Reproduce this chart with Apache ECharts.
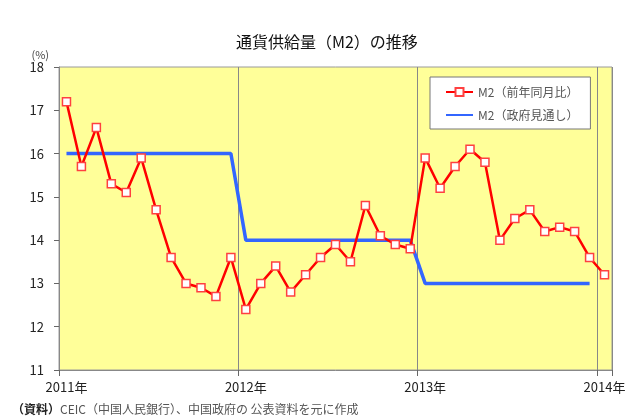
<!DOCTYPE html>
<html>
<head>
<meta charset="utf-8">
<script src="https://cdn.jsdelivr.net/npm/echarts@6/dist/echarts.min.js"></script>
<style>
  html, body { margin: 0; padding: 0; background: #fff; }
  #chart { width: 636px; height: 419px; }
</style>
</head>
<body>
<div id="chart"></div>
<script>
// Monthly categories, Jan 2011 – Jan 2014
const months = [];
for (let y = 2011; y <= 2014; y++) {
  for (let m = 1; m <= 12; m++) {
    if (y === 2014 && m > 1) break;
    months.push(y + '/' + m);
  }
}

// M2 year-on-year growth (%)
const m2Yoy = [
  17.2, 15.7, 16.6, 15.3, 15.1, 15.9, 14.7, 13.6, 13.0, 12.9, 12.7, 13.6,
  12.4, 13.0, 13.4, 12.8, 13.2, 13.6, 13.9, 13.5, 14.8, 14.1, 13.9, 13.8,
  15.9, 15.2, 15.7, 16.1, 15.8, 14.0, 14.5, 14.7, 14.2, 14.3, 14.2, 13.6,
  13.2
];

// Government M2 growth target (%)
const m2Target = [
  16, 16, 16, 16, 16, 16, 16, 16, 16, 16, 16, 16,
  14, 14, 14, 14, 14, 14, 14, 14, 14, 14, 14, 14,
  13, 13, 13, 13, 13, 13, 13, 13, 13, 13, 13, 13,
  null
];

const yTicks = { min: 11, max: 18, step: 1 };
const seriesNames = ['M2（前年同月比）', 'M2（政府見通し）'];

const jp = '"Noto Sans CJK JP", "Noto Sans", sans-serif';
const yearStart = (i) => i % 12 === 0;

const chart = echarts.init(document.getElementById('chart'));
chart.setOption({
  animation: false,
  backgroundColor: '#ffffff',
  textStyle: { fontFamily: jp },
  title: [
    {
      text: '通貨供給量（M2）の推移',
      left: 231,
      top: 29,
      textStyle: { fontFamily: jp, fontSize: 16, fontWeight: 'normal', color: '#111' }
    },
    {
      text: '{b|（資料）}CEIC（中国人民銀行）、中国政府の 公表資料を元に作成',
      left: 12,
      top: 403,
      padding: 0,
      textStyle: {
        fontFamily: jp, fontSize: 12, fontWeight: 'normal', color: '#555',
        rich: { b: { fontFamily: jp, fontSize: 12, fontWeight: 'bold', color: '#222' } }
      }
    }
  ],
  grid: {
    left: 59, right: 24, top: 67, bottom: 49,
    show: true,
    backgroundColor: '#FFFF99',
    borderColor: '#9a9a9a',
    borderWidth: 1
  },
  legend: {
    orient: 'vertical',
    left: 430,
    top: 77,
    padding: [9, 12, 8, 15],
    itemGap: 11,
    itemWidth: 27,
    itemHeight: 10,
    backgroundColor: '#ffffff',
    borderColor: '#777',
    borderWidth: 1,
    textStyle: { fontFamily: jp, fontSize: 12, color: '#555' },
    data: [
      { name: seriesNames[0] },
      { name: seriesNames[1], itemStyle: { opacity: 0 } }
    ]
  },
  xAxis: {
    type: 'category',
    data: months,
    boundaryGap: true,
    axisLine: { show: true, lineStyle: { color: '#888' } },
    axisTick: { show: true, interval: (i) => yearStart(i), length: 6, lineStyle: { color: '#666' } },
    splitLine: { show: true, interval: (i) => yearStart(i), lineStyle: { color: '#888', width: 1 } },
    axisLabel: {
      interval: (i) => yearStart(i),
      formatter: (v) => v.split('/')[0] + '年',
      fontSize: 13,
      color: '#222',
      margin: 11
    }
  },
  yAxis: {
    type: 'value',
    name: '(%)',
    nameLocation: 'end',
    nameGap: 6,
    nameTextStyle: { fontSize: 11, color: '#444', align: 'right', padding: [0, 10, 0, 0] },
    min: yTicks.min,
    max: yTicks.max,
    interval: yTicks.step,
    axisLine: { show: true, lineStyle: { color: '#888' } },
    axisTick: { show: true, length: 5, lineStyle: { color: '#666' } },
    splitLine: { show: false },
    axisLabel: { fontSize: 13, color: '#222', margin: 15 }
  },
  series: [
    {
      name: seriesNames[0],
      type: 'line',
      data: m2Yoy,
      symbol: 'rect',
      symbolSize: 8,
      itemStyle: { color: '#ffffff', borderColor: '#ff4040', borderWidth: 1.5 },
      lineStyle: { color: '#ff0000', width: 2.5 },
      z: 3
    },
    {
      name: seriesNames[1],
      type: 'line',
      data: m2Target,
      symbol: 'none',
      itemStyle: { color: '#3366ff' },
      lineStyle: { color: '#3366ff', width: 3.5 },
      z: 2
    }
  ]
});
</script>
</body>
</html>
